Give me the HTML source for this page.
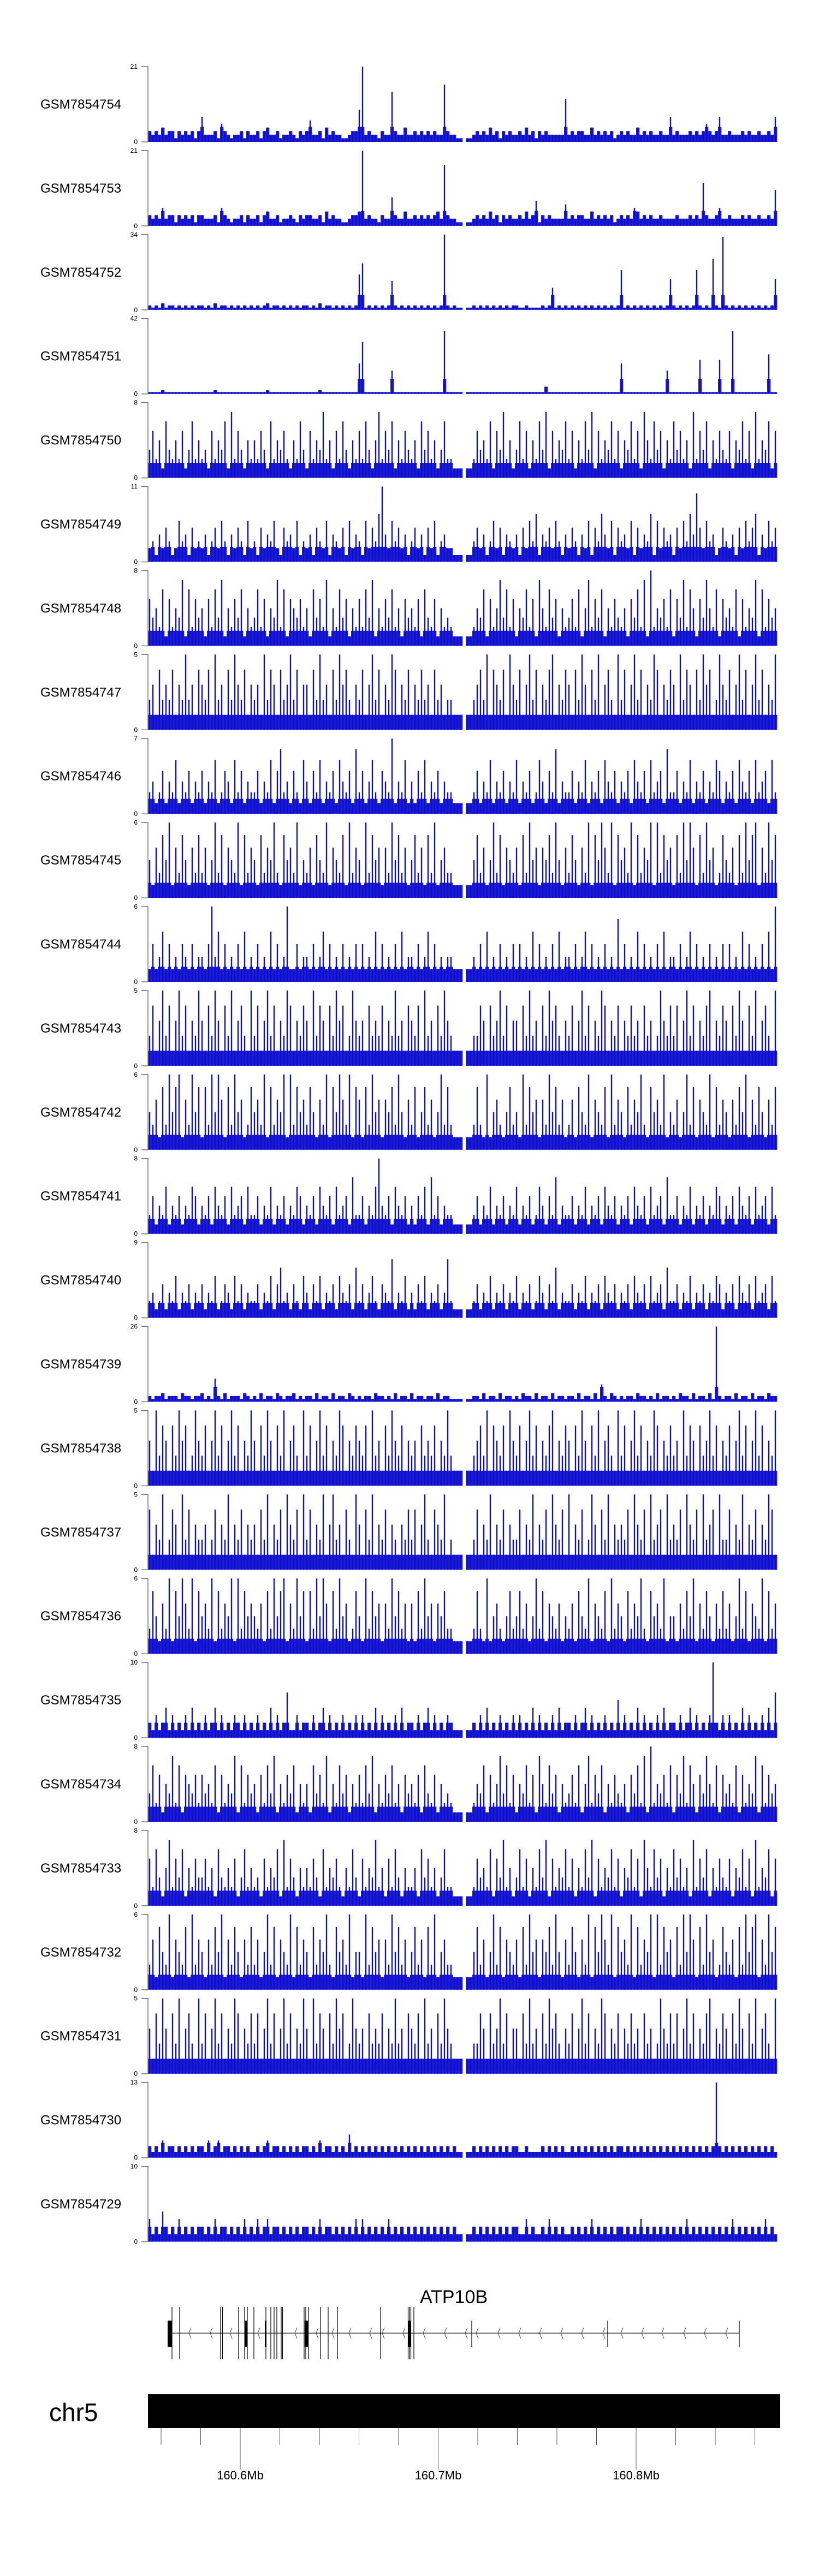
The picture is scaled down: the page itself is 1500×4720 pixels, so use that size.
<!DOCTYPE html>
<html><head><meta charset="utf-8">
<style>
html,body{margin:0;padding:0;background:#fff;}
svg{display:block;font-family:"Liberation Sans",sans-serif;}
</style></head>
<body>
<svg id="chart" width="1500" height="4720" viewBox="0 0 1500 4720" xmlns="http://www.w3.org/2000/svg">
<g id="tracks"></g>
<g id="gene"></g>
<g id="ideo"></g>
</svg>
<script>
const trackNames = ["GSM7854754","GSM7854753","GSM7854752","GSM7854751","GSM7854750","GSM7854749","GSM7854748","GSM7854747","GSM7854746","GSM7854745","GSM7854744","GSM7854743","GSM7854742","GSM7854741","GSM7854740","GSM7854739","GSM7854738","GSM7854737","GSM7854736","GSM7854735","GSM7854734","GSM7854733","GSM7854732","GSM7854731","GSM7854730","GSM7854729"];
const trackMax = [21,21,34,42,8,11,8,5,7,6,6,5,6,8,9,26,5,5,6,10,8,8,6,5,13,10];
const trackData = [
"3232423313232313 7222315321223132 2313422312232132 3622314232211233 9l23221322e32242 2323232322g32211 0112323242313232 232423132322222c 2323322423232312 3232242323223227 2322232323532372 2322232322322327",
"3232523313232313 3222315321223132 2313422312232132 3322314232211233 4l23221322832242 2323232342h32211 0112323242313232 2324237132322226 2323322423232312 3232542323223222 232223232c322352 232223232232232a",
"2121312212121212 2121312212121212 1212312212121212 2121312212121212 gl12121212d21212 1212121212y21211 0112121212121212 21121111212a1212 1212121212121212 i12121212121212e 2121212i2121n21x 212121212121212e",
"1111211111111111 1111211111111111 1111211111111111 1111211111111111 ht11111111d11111 1111111111z11111 0111111111111111 1111111114111111 1111111111111111 h1111111111111d1 11111111j11111j1 11z1111111111m11",
"3524163242513624 2315243617253142 4253162435214263 1524372415263142 5263147253614253 2416352413622111 0112534261537241 3625142637152436 2514263715243625 1436251742635142 6352417253614253 2514362517243615",
"2314253126341523 2413526314253162 3152436215342613 2415326143251624 3162537b42635241 3524152613422111 0113524136251432 4152637143526314 2531426153742615 3426152437162534 1526374a52634125 3241526357142635",
"5342615243716253 4152637142536142 3625143726154352 4163527142635142 5263714253624153 4251632514232111 0112436152473625 1436251742635142 3526147253614253 2415362718243526 1537264153742615 3426152437162534",
"2314232413252314 3241523142532413 2315243142352413 3142523142534213 2413524132541324 1324231423122111 0112342514324153 2413524132451324 3142531425134215 2413524132541324 3152431425341253 2413524135241325",
"2312413251324132 4132512431524132 2413251462314215 3142513241532416 2413521432713251 3142513241322111 0112413251324132 5132412531426132 2413251324153241 3241532415234162 2413251324132541 3241532415234152",
"3142536142531425 2413625143261524 3152436215342613 2415326143251624 3162534142635241 3524152613422111 0113524136251432 4152634143526314 2531426153642615 3426152436162534 1526364152634125 3241526356142635",
"1312413121321312 2136241312131412 1312141312611312 2131241312131213 1312141312131412 2131241312122111 0112131412131213 1312141312131412 2131241312131215 1312141312131412 2131241312131213 1312141312131416",
"2413524135241325 3142531425134215 2413524132541324 3152431425341253 2314232413252314 3241523142532111 0112243142352413 3142523142534213 2413524132541324 1324231423125324 2413524132451324 3142531425134215",
"3241526356142635 1526364152634125 3426152436162534 2531426153642615 4152634143526314 2513524136252111 0112521613421352 3162534142635241 2415326143251624 3152436215342613 2413625143261524 3142536142531425",
"2413251324132541 3241532415234152 2413251324132541 3241532415234162 2413258324153241 3142516241322111 0112413251324132 5132412531426132 2413251324153241 3241532415234162 2413251324132541 3241532415234152",
"2312413251324132 4132512431524132 2413251462314215 3142513241532416 2413521432713251 3142513241372111 0112413251324132 5132412531426132 2413251324153241 3241532415234162 2413251324132541 3241532415234152",
"2122312221322122 3121821312221321 2131221321223121 2213122131221321 2122132212131221 3122122131221111 0112213122131221 2132213122131221 2213122131621321 2122132212131221 2132213122131q21 2213122131221322",
"3152431425341253 2413524135241325 3142531425134215 2413524132541324 3241523142532413 2314232413252111 0112342514324153 2413524132451324 3142531425134215 2413524132541324 2315243142352413 2413524135241325",
"4132512431524132 2312413251324132 3142513241532416 2413251362314215 3142513241321324 2413521432712111 0112413251324132 2413251324153241 5132412531426132 3241532415234152 3241532415234162 2413251324132541",
"2531426153642615 3426152436162534 3241526356142635 1526364152634125 3162534142635241 4152634143522111 0112521613421352 3524136251432413 2415326143251624 3152436215342613 3142536142531425 2413625143261524",
"2131241312131412 1312413121321312 1312141312611312 2131241312131213 1312141312131412 2131241312132111 0112131412131213 1312141312131412 2131241312131215 1312141312131412 213124131213a213 1312141312131416",
"3625143726154352 5342615243716253 4152637142536142 4163527142635142 5263714253624153 4251632514232111 0112436152473625 1436251742635142 3526147253614253 2415362718243526 1537264153742615 3426152437162534",
"5263147253614253 3524163242513624 2315243617253142 4253162435214263 1524372415263142 2416352413622111 0112534261537241 3625142637152436 2514263715243625 1436251742635142 6352417253614253 2514362517243615",
"2415326143251624 3142536142531425 2413625143261524 3152436215342613 3162534142635241 3524152613422111 0113524136251432 4152634143526314 2531426153642615 3426152436162534 1526364152634125 3241526356142635",
"3142531425134215 2413524132541324 2413524135241325 3152431425341253 2314232413252314 3241523142532111 0112243142352413 3142523142534213 2413524132541324 1324231423125324 2413524132451324 3142531425134215",
"2121312212121212 2131231221212121 1212312212121212 2121312212121412 1212121212121212 1212121212121211 0112121212121212 2112111121212121 1212121212121212 2121212121212121 2121212121212d21 2121212121212121",
"3121421213121212 2121312212121312 1312312212121212 2121312212121213 1312121213121212 1212121212121211 0112121212121212 2113121121312121 1212121312121212 2121213121212121 2121312121212121 2131212121213121"
];
const NS = "http://www.w3.org/2000/svg";
const PLOT_L = 271, PLOT_R = 1423, TOP0 = 122, PITCH = 153.9, TH = 138;
const xScale = (i, n) => PLOT_L + i * (PLOT_R - PLOT_L) / n;
const yScale = (v, max, top) => top + TH - Math.min(v, max) / max * TH;
function mk(tag, attrs, parent){ const e=document.createElementNS(NS,tag); for(const k in attrs) e.setAttribute(k,attrs[k]); parent.appendChild(e); return e; }

const tracksG = document.getElementById('tracks');
trackNames.forEach((name, t) => {
  const top = TOP0 + t * PITCH;
  const max = trackMax[t];
  const g = mk('g', {}, tracksG);
  
  
  const lab = mk('text', {x: 74, y: top + TH/2 + 8, 'font-size': 24, fill: '#000'}, g);
  lab.textContent = name;
  
  
  const vals = trackData[t].replace(/\s+/g,'').split('').map(c => parseInt(c, 36));
  const n = vals.length, w = (PLOT_R - PLOT_L) / n;
  const baseCap = max * 0.2;
  let dBase = '', dSpike = '';
  vals.forEach((v, i) => {
    if (v <= 0) return;
    const x = xScale(i, n);
    const yb = yScale(Math.min(v, baseCap), max, top);
    dBase += 'M' + x.toFixed(2) + ' ' + (top+TH) + 'V' + yb.toFixed(2) + 'h' + (w+0.3).toFixed(2) + 'V' + (top+TH) + 'Z';
    const y = yScale(v, max, top);
    dSpike += 'M' + (x + w*0.3).toFixed(2) + ' ' + (top+TH) + 'V' + y.toFixed(2) + 'h' + (w*0.4).toFixed(2) + 'V' + (top+TH) + 'Z';
  });
  const pb = mk('path', {d: dBase, fill: '#1a1ae0'}, g);
  
  
  const p = mk('path', {d: dSpike, fill: '#1010b8'}, g);
  
  
  const ax = mk('path', {d: `M259 ${top}H271V${top+TH}H259`, stroke: '#777', 'stroke-width': 1.5, fill: 'none'}, g);
  
  
  const tmax = mk('text', {x: 252, y: top + 4, 'font-size': 12, 'text-anchor': 'end', fill: '#000'}, g);
  tmax.textContent = max;
  
  
  const tmin = mk('text', {x: 252, y: top + TH + 4, 'font-size': 12, 'text-anchor': 'end', fill: '#000'}, g);
  tmin.textContent = '0';
  
  
});

// gene model
const geneG = document.getElementById('gene');
const exonLines = [315,329,404,407.5,437,448,453,465,487,496,502,507,515,517.5,557,560,565,587,601,618,697,747.5,750,752.5,758];
const thickExons = [[307,315],[449,452],[485,488],[558,564],[747,753]];
const midLines = [864,1113,1354];
const chevrons = [346,385,421,472,540,579,608,639,677,700,738,775,814,852,872,912,950,988,1027,1065,1104,1137,1175,1212,1252,1290,1329];
const GY = 4275;
const gl = mk('line', {x1:315, x2:1354, y1:GY, y2:GY, stroke:'#444', 'stroke-width':1.5}, geneG);


chevrons.forEach(x => {
  const c = mk('path', {d:`M${x+4} ${GY-10}L${x} ${GY}L${x+4} ${GY+10}`, stroke:'#444', fill:'none', 'stroke-width':1}, geneG);
  
  
});
exonLines.forEach(x => {
  const l = mk('line', {x1:x, x2:x, y1:4227, y2:4323, stroke:'#000', 'stroke-width':1.2}, geneG);
  
  
});
midLines.forEach(x => {
  const l = mk('line', {x1:x, x2:x, y1:4252, y2:4300, stroke:'#000', 'stroke-width':1.2}, geneG);
  
  
});
thickExons.forEach(([a,b]) => {
  const r = mk('rect', {x:a, y:4252, width:b-a, height:48, fill:'#000'}, geneG);
  
  
});
const gn = mk('text', {x:831, y:4220, 'font-size':34, 'text-anchor':'middle', fill:'#000'}, geneG);
gn.textContent = 'ATP10B';



// chromosome axis
const ideoG = document.getElementById('ideo');
const axisLabels = ["160.6Mb","160.7Mb","160.8Mb"];
const axisMb = [160.6,160.7,160.8];
const mbToX = mb => 440 + (mb - 160.6) * 3625;
const chrLab = mk('text', {x:90, y:4436, 'font-size':46, fill:'#000'}, ideoG);
chrLab.textContent = 'chr5';


const bar = mk('rect', {x:271, y:4387, width:1158, height:62, fill:'#000'}, ideoG);


for (let k = -2; k <= 13; k++) {
  const mb = 160.6 + k * 0.02;
  const x = mbToX(mb);
  if (x < 280 || x > 1425) continue;
  const major = k % 5 === 0;
  const t = mk('line', {x1:x, x2:x, y1:4449, y2: major ? 4525 : 4480, stroke:'#555', 'stroke-width':1}, ideoG);
  
  
}
axisMb.forEach((mb, i) => {
  const t = mk('text', {x: mbToX(mb), y: 4543, 'font-size':22, 'text-anchor':'middle', fill:'#000'}, ideoG);
  t.textContent = axisLabels[i];
  
  
});
</script>
</body></html>
